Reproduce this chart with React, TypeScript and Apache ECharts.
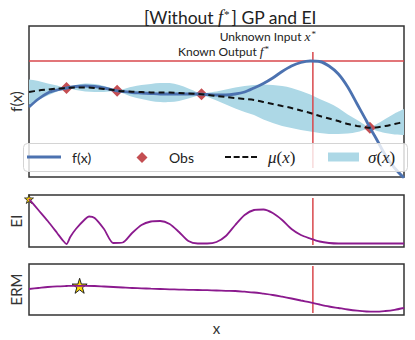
import React, { useEffect, useRef } from "react";
import * as echarts from "echarts";

// ---- data (x in [0, 10]) ----
const xsGP = [0, 0.25, 0.5, 0.75, 1, 1.25, 1.5, 1.75, 2, 2.25, 2.35, 2.5, 2.75, 3, 3.25, 3.5, 3.75, 4, 4.25, 4.5, 4.6, 4.75, 5, 5.25, 5.5, 5.75, 6, 6.25, 6.5, 6.75, 7, 7.25, 7.5, 7.75, 8, 8.25, 8.5, 8.75, 9, 9.09, 9.25, 9.5, 9.75, 10];
const fVals = [7.0, 7.8, 8.4, 8.7, 8.9, 9.05, 9.1, 9.05, 8.9, 8.7, 8.62, 8.55, 8.45, 8.4, 8.35, 8.3, 8.3, 8.3, 8.3, 8.3, 8.28, 8.25, 8.2, 8.2, 8.3, 8.5, 8.9, 9.35, 9.9, 10.55, 11.1, 11.45, 11.6, 11.55, 11.1, 10.3, 9.0, 7.3, 5.6, 4.93, 3.9, 2.2, 0.9, -0.1];
const muVals = [8.5, 8.65, 8.75, 8.85, 8.9, 8.95, 8.95, 8.9, 8.8, 8.7, 8.62, 8.58, 8.53, 8.5, 8.46, 8.45, 8.44, 8.4, 8.35, 8.3, 8.28, 8.22, 8.1, 8.0, 7.9, 7.8, 7.7, 7.5, 7.3, 7.1, 6.9, 6.65, 6.4, 6.1, 5.85, 5.6, 5.3, 5.1, 4.96, 4.93, 4.95, 5.1, 5.3, 5.5];
const sigmaVals = [1.25, 0.95, 0.6, 0.3, 0, 0.25, 0.4, 0.4, 0.3, 0.1, 0, 0.2, 0.5, 0.7, 0.85, 0.95, 0.95, 0.8, 0.5, 0.15, 0, 0.2, 0.45, 0.75, 1.05, 1.3, 1.5, 1.75, 1.9, 2.0, 2.0, 1.95, 1.85, 1.7, 1.55, 1.3, 0.95, 0.6, 0.15, 0, 0.3, 0.7, 1.05, 1.3];
const obsX = [1.0, 2.35, 4.6, 9.09];
const obsY = [8.9, 8.62, 8.28, 4.93];
const xStar = 7.57;
const fStar = 11.6;
const xStarSpanF = [12.5, 0.9];
const xStarSpanEI = [46, -1];
const xStarSpanERM = [49, 2];

const xsEI = [0, 0.25, 0.5, 0.75, 0.9, 1, 1.1, 1.25, 1.5, 1.6, 1.75, 2, 2.25, 2.5, 2.75, 3, 3.25, 3.5, 3.75, 4, 4.25, 4.5, 4.75, 5, 5.25, 5.5, 5.75, 6, 6.25, 6.5, 6.75, 7, 7.25, 7.5, 7.75, 8, 8.25, 8.5, 9, 9.5, 10];
const eiVals = [45, 34, 23, 11, 3.7, 0, 7, 15, 25, 27.5, 26, 15, 1, 1.5, 11, 19, 22.5, 23, 20, 12, 3, 0.5, 0.5, 2, 8, 19, 29, 34, 34.5, 31, 24, 15, 9, 5.5, 2.5, 1, 0.5, 0.5, 0.5, 0.5, 0.5];
const eiBest = [0, 45];

const xsERM = [0, 0.25, 0.5, 0.75, 1, 1.25, 1.5, 1.75, 2, 2.25, 2.5, 2.75, 3, 3.25, 3.5, 3.75, 4, 4.25, 4.5, 4.75, 5, 5.25, 5.5, 5.75, 6, 6.25, 6.5, 6.75, 7, 7.25, 7.5, 7.75, 8, 8.25, 8.5, 8.75, 9, 9.25, 9.5, 9.75, 10];
const ermVals = [26, 27, 28, 28.7, 29, 29.2, 29.2, 29, 28.5, 28, 27.5, 27, 26.7, 26.3, 26, 25.7, 25.4, 25.2, 25, 24.8, 24.5, 24.2, 24, 23.3, 22.5, 21.3, 20, 18.3, 16.5, 14.5, 12.7, 10.5, 8.5, 7, 5.5, 4.3, 3.5, 3.3, 4, 5.2, 7];
const ermBest = [1.35, 29.2];

const FONT = "Lato, 'DejaVu Sans', sans-serif";
const SERIF = "'Liberation Serif', 'DejaVu Serif', serif";
const BLUE = "#4C72B0";
const RED_MARK = "#C44E52";
const RED_LINE = "#d8474c";
const PURPLE = "#8b1a8e";
const BAND = "#ADD8E6";
const STAR = "path://M50,0 L61,35 L98,35 L68,57 L79,91 L50,70 L21,91 L32,57 L2,35 L39,35 Z";
const DASH_ICON = "path://M0,0H6V2H0Z M8.67,0H14.67V2H8.67Z M17.33,0H23.33V2H17.33Z M26,0H32V2H26Z";

const zip = (xs: number[], ys: number[]) => xs.map((x, i) => [x, ys[i]]);

// Catmull-Rom spline through pixel points, as SVG cubic segments
function spline(pts: number[][]): string {
  let d = "";
  for (let i = 0; i < pts.length - 1; i++) {
    const p0 = pts[i - 1] || pts[i];
    const p1 = pts[i];
    const p2 = pts[i + 1];
    const p3 = pts[i + 2] || p2;
    const c1 = [p1[0] + (p2[0] - p0[0]) / 6, p1[1] + (p2[1] - p0[1]) / 6];
    const c2 = [p2[0] - (p3[0] - p1[0]) / 6, p2[1] - (p3[1] - p1[1]) / 6];
    d += ` C${c1[0]},${c1[1]} ${c2[0]},${c2[1]} ${p2[0]},${p2[1]}`;
  }
  return d;
}

export default function App() {
  const ref = useRef<HTMLDivElement>(null);
  useEffect(() => {
    if (!ref.current) return;
    const chart = echarts.init(ref.current, undefined, { renderer: "svg" });
    const lower = muVals.map((m, i) => m - sigmaVals[i]);
    const upper = muVals.map((m, i) => m + sigmaVals[i]);
    const bandData = xsGP.map((x, i) => [x, lower[i], upper[i]]);

    const gridBase = { left: 26, width: 378, show: true, borderColor: "#333", borderWidth: 1.5, backgroundColor: "transparent" };
    const hiddenAxis = { axisLine: { show: false }, axisTick: { show: false }, axisLabel: { show: false }, splitLine: { show: false } };
    const nameStyle = { fontFamily: FONT, fontSize: 15, color: "#333" };
    const titleRich = {
      a: { fontFamily: FONT, fontSize: 17.5, fontWeight: "normal", color: "#222" },
      m: { fontFamily: SERIF, fontStyle: "italic", fontWeight: "normal", fontSize: 18, color: "#222", padding: [0, 1, 0, 0] },
      s: { fontFamily: SERIF, fontSize: 11, fontWeight: "normal", color: "#222", verticalAlign: "top", padding: [0, 2, 0, 0] },
    };
    const legendRich = {
      m: { fontFamily: SERIF, fontStyle: "italic", fontSize: 17, color: "#222" },
      r: { fontFamily: SERIF, fontSize: 17, color: "#222" },
    };
    const annRich = {
      a: { fontFamily: FONT, fontSize: 12, fill: "#222" },
      m: { fontFamily: SERIF, fontStyle: "italic", fontSize: 13.5, fill: "#222", padding: [0, 1, 0, 0] },
      s: { fontFamily: SERIF, fontSize: 9, fill: "#222", verticalAlign: "top" },
    };
    const legendBase = { padding: 0, z: 20, selectedMode: false, orient: "horizontal", symbolKeepAspect: false };
    const smoothK = 0.3;

    chart.setOption({
      animation: false,
      textStyle: { fontFamily: FONT },
      title: {
        text: "{a|[Without }{m|f}{s|*}{a|] GP and EI}",
        left: 139,
        top: 3,
        textStyle: { fontWeight: "normal", rich: titleRich },
      },
      grid: [
        { ...gridBase, top: 26, height: 151 },
        { ...gridBase, top: 195, height: 52 },
        { ...gridBase, top: 264, height: 51 },
      ],
      xAxis: [
        { type: "value", gridIndex: 0, min: 0, max: 10, ...hiddenAxis },
        { type: "value", gridIndex: 1, min: 0, max: 10, ...hiddenAxis },
        { type: "value", gridIndex: 2, min: 0, max: 10, ...hiddenAxis, name: "x", nameLocation: "middle", nameGap: 5, nameTextStyle: nameStyle },
      ],
      yAxis: [
        { type: "value", gridIndex: 0, min: 0, max: 15.1, ...hiddenAxis, name: "f(x)", nameLocation: "middle", nameGap: 6, nameRotate: 90, nameTextStyle: nameStyle },
        { type: "value", gridIndex: 1, min: -3, max: 49, ...hiddenAxis, name: "EI", nameLocation: "middle", nameGap: 6, nameRotate: 90, nameTextStyle: nameStyle },
        { type: "value", gridIndex: 2, min: 0, max: 51, ...hiddenAxis, name: "ERM", nameLocation: "middle", nameGap: 6, nameRotate: 90, nameTextStyle: nameStyle },
      ],
      legend: [
        { ...legendBase, data: [{ name: "f(x)", icon: "rect", itemStyle: { color: BLUE } }], left: 27, top: 150, itemWidth: 34, itemHeight: 3, textStyle: { fontFamily: FONT, fontSize: 14, color: "#222", padding: [0, 0, 0, 6] } },
        { ...legendBase, data: [{ name: "Obs", icon: "diamond", itemStyle: { color: RED_MARK, opacity: 1 } }], left: 136.5, top: 150.5, itemWidth: 11, itemHeight: 11, textStyle: { fontFamily: FONT, fontSize: 14, color: "#222", padding: [0, 0, 0, 16.5] } },
        { ...legendBase, data: [{ name: "μ(x)", icon: DASH_ICON, itemStyle: { color: "#111" } }], left: 225, top: 148.5, itemWidth: 32, itemHeight: 2, formatter: () => "{m|μ}{r|(}{m|x}{r|)}", textStyle: { rich: legendRich, padding: [0, 0, 0, 6] } },
        { ...legendBase, data: [{ name: "σ(x)", icon: "rect", itemStyle: { color: BAND } }], left: 328, top: 148.5, itemWidth: 31, itemHeight: 9, formatter: () => "{m|σ}{r|(}{m|x}{r|)}", textStyle: { rich: legendRich, padding: [0, 0, 0, 4] } },
      ],
      graphic: [
        { type: "rect", left: 23, top: 143, shape: { width: 384, height: 28, r: 4 }, style: { fill: "rgba(255,255,255,0.8)", stroke: "#d4d4d4", lineWidth: 1 }, z: 10 },
        { type: "text", right: 99, top: 29, z: 10, style: { text: "{a|Unknown Input }{m|x}{s|*}", rich: annRich } },
        { type: "text", left: 178, top: 44, z: 10, style: { text: "{a|Known Output }{m|f}{s|*}", rich: annRich } },
      ],
      series: [
        {
          name: "σ(x)",
          type: "custom",
          xAxisIndex: 0,
          yAxisIndex: 0,
          clip: true,
          itemStyle: { color: BAND },
          data: bandData,
          renderItem: (params: any, api: any) => {
            if (params.dataIndex !== 0) return null;
            const up = bandData.map((r) => api.coord([r[0], r[2]]));
            const lo = bandData.map((r) => api.coord([r[0], r[1]])).reverse();
            const d = `M${up[0][0]},${up[0][1]}` + spline(up) + ` L${lo[0][0]},${lo[0][1]}` + spline(lo) + " Z";
            return { type: "path", shape: { pathData: d }, style: { fill: BAND, stroke: "none" } };
          },
        },
        { name: "fstar", type: "line", xAxisIndex: 0, yAxisIndex: 0, data: [[0, fStar], [10, fStar]], symbol: "none", lineStyle: { color: RED_LINE, width: 1.5 } },
        { name: "xstarF", type: "line", xAxisIndex: 0, yAxisIndex: 0, data: xStarSpanF.map((v) => [xStar, v]), symbol: "none", lineStyle: { color: RED_LINE, width: 1.5 } },
        { name: "f(x)", type: "line", xAxisIndex: 0, yAxisIndex: 0, data: zip(xsGP, fVals), smooth: smoothK, symbol: "none", itemStyle: { color: BLUE }, lineStyle: { color: BLUE, width: 2.8 } },
        { name: "μ(x)", type: "line", xAxisIndex: 0, yAxisIndex: 0, data: zip(xsGP, muVals), smooth: smoothK, symbol: "none", itemStyle: { color: "#111" }, lineStyle: { color: "#111", width: 2, type: [6, 4] } },
        { name: "Obs", type: "scatter", xAxisIndex: 0, yAxisIndex: 0, data: zip(obsX, obsY), symbol: "diamond", symbolSize: 12, itemStyle: { color: RED_MARK, opacity: 1 } },

        { name: "xstarEI", type: "line", xAxisIndex: 1, yAxisIndex: 1, data: xStarSpanEI.map((v) => [xStar, v]), symbol: "none", lineStyle: { color: RED_LINE, width: 1.5 } },
        { name: "EI", type: "line", xAxisIndex: 1, yAxisIndex: 1, data: zip(xsEI, eiVals), smooth: 0.25, symbol: "none", lineStyle: { color: PURPLE, width: 1.8 } },
        { name: "EIbest", type: "scatter", xAxisIndex: 1, yAxisIndex: 1, data: [eiBest], symbol: STAR, symbolSize: 9, itemStyle: { color: "#FFD700", borderColor: "#222", borderWidth: 0.8, opacity: 1 } },

        { name: "xstarERM", type: "line", xAxisIndex: 2, yAxisIndex: 2, data: xStarSpanERM.map((v) => [xStar, v]), symbol: "none", lineStyle: { color: RED_LINE, width: 1.5 } },
        { name: "ERM", type: "line", xAxisIndex: 2, yAxisIndex: 2, data: zip(xsERM, ermVals), smooth: 0.3, symbol: "none", lineStyle: { color: PURPLE, width: 1.8 } },
        { name: "ERMbest", type: "scatter", xAxisIndex: 2, yAxisIndex: 2, data: [ermBest], symbol: STAR, symbolSize: 15, itemStyle: { color: "#FFD700", borderColor: "#222", borderWidth: 1, opacity: 1 } },
      ],
    });
    return () => chart.dispose();
  }, []);
  return <div ref={ref} style={{ position: "absolute", left: 0, top: 0, width: 415, height: 340 }} />;
}
